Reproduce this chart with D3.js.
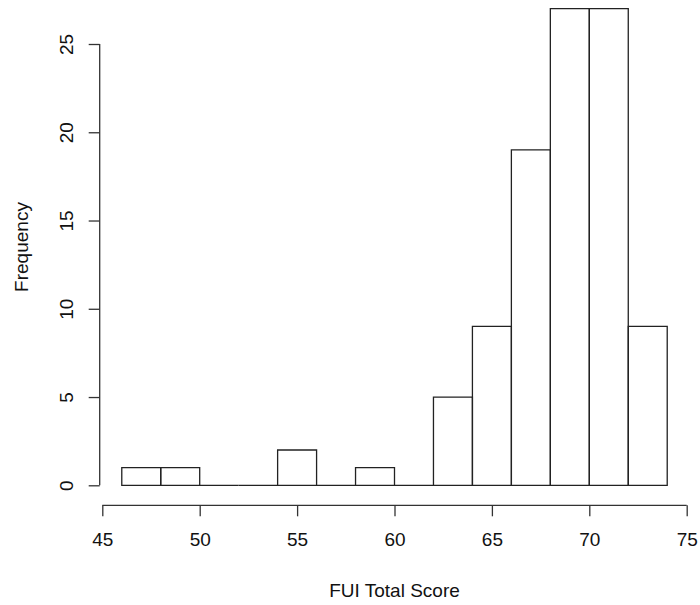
<!DOCTYPE html>
<html lang="en">
<meta charset="utf-8">
<style>
  body { margin: 0; background: #fff; }
  text { font-family: 'Liberation Sans', Arial, sans-serif; fill: #111; }
</style>
<script src="https://d3js.org/d3.v7.min.js"></script>
<body>
<div id="chart"></div>
<script>
// histogram bins (width 2) and counts
var binStarts = [46, 48, 50, 52, 54, 56, 58, 60, 62, 64, 66, 68, 70, 72];
var binWidth = 2;
var counts = [1, 1, 0, 0, 2, 0, 1, 0, 5, 9, 19, 27, 27, 9];
var xTicks = [45, 50, 55, 60, 65, 70, 75];
var yTicks = [0, 5, 10, 15, 20, 25];
var xTitle = "FUI Total Score";
var yTitle = "Frequency";

var w = 700, h = 605;
var fs = 19;

var svg = d3.select("#chart").append("svg")
  .attr("width", w)
  .attr("height", h);

var x = d3.scaleLinear().domain([45, 75]).range([102.3, 686.7]);
var y = d3.scaleLinear().domain([0, 25]).range([485.3, 44]);

// bars as closed paths so empty bins still show as a flat line
svg.selectAll("path.bar")
  .data(counts)
  .enter()
  .append("path")
    .attr("class", "bar")
    .attr("d", (d, i) => {
      var x0 = x(binStarts[i]), x1 = x(binStarts[i] + binWidth);
      return "M" + x0 + "," + y(0) + "V" + y(d) + "H" + x1 + "V" + y(0) + "Z";
    })
    .attr("fill", "none")
    .attr("stroke", "#222")
    .attr("stroke-width", 1.3);

// x axis (R style, offset below plot)
var xAxis = svg.append("g")
  .attr("transform", "translate(0,505.3)")
  .call(d3.axisBottom(x).tickValues(xTicks).tickSize(11).tickPadding(16).tickSizeOuter(0));
xAxis.select(".domain").attr("stroke", "#333").attr("stroke-width", 1.3)
  .attr("d", "M" + x(45) + ",0H" + x(75));
xAxis.selectAll(".tick line").attr("stroke", "#333").attr("stroke-width", 1.3);
xAxis.selectAll("text").style("font-size", fs + "px").attr("fill", "#111")
  .style("font-family", "'Liberation Sans', Arial, sans-serif");

// y axis
var yAxis = svg.append("g")
  .attr("transform", "translate(99.7,0)")
  .call(d3.axisLeft(y).tickValues(yTicks).tickSize(11).tickSizeOuter(0));
yAxis.select(".domain").attr("stroke", "#333").attr("stroke-width", 1.3)
  .attr("d", "M0," + y(0) + "V" + y(25));
yAxis.selectAll(".tick line").attr("stroke", "#333").attr("stroke-width", 1.3);
yAxis.selectAll(".tick text")
  .attr("x", null).attr("dy", null)
  .attr("transform", "translate(-27,0) rotate(-90)")
  .attr("text-anchor", "middle")
  .attr("dominant-baseline", "auto")
  .attr("y", 0)
  .attr("fill", "#111")
  .style("font-size", fs + "px")
  .style("font-family", "'Liberation Sans', Arial, sans-serif");

// titles (centred on the plot region, like R does)
svg.append("text")
  .attr("x", x(60))
  .attr("y", 597)
  .attr("text-anchor", "middle")
  .style("font-size", fs + "px")
  .text(xTitle);

svg.append("text")
  .attr("transform", "translate(28," + y(13.5) + ") rotate(-90)")
  .attr("text-anchor", "middle")
  .style("font-size", fs + "px")
  .text(yTitle);
</script>
</body>
</html>
